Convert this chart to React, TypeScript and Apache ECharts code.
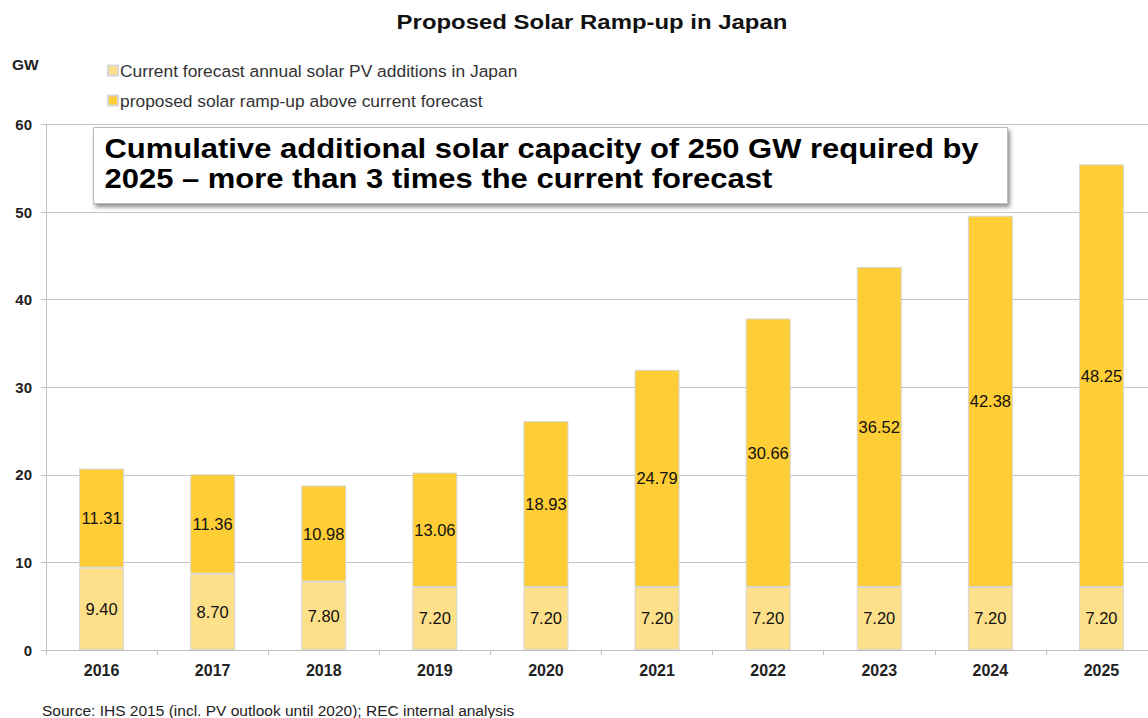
import React, { useEffect, useRef } from "react";
import * as echarts from "echarts";

const years = ["2016", "2017", "2018", "2019", "2020", "2021", "2022", "2023", "2024", "2025"];
const currentForecast = [9.4, 8.7, 7.8, 7.2, 7.2, 7.2, 7.2, 7.2, 7.2, 7.2];
const proposedRampUp = [11.31, 11.36, 10.98, 13.06, 18.93, 24.79, 30.66, 36.52, 42.38, 48.25];
const seriesNames = [
  "Current forecast annual solar PV additions in Japan",
  "proposed solar ramp-up above current forecast",
];
const titleText = "Proposed Solar Ramp-up in Japan";
const calloutLines = [
  "Cumulative additional solar capacity of 250 GW required by",
  "2025 – more than 3 times the current forecast",
];
const sourceText = "Source: IHS 2015 (incl. PV outlook until 2020); REC internal analysis";

const FONT = '"Liberation Sans", Arial, sans-serif';

export default function App() {
  const ref = useRef<HTMLDivElement>(null);
  useEffect(() => {
    document.body.style.margin = "0";
    if (!ref.current) return;
    const chart = echarts.init(ref.current, undefined, { renderer: "svg" });
    const labelStyle = {
      show: true,
      position: "inside" as const,
      color: "#111",
      fontSize: 16.5,
      fontFamily: FONT,
      formatter: (p: any) => Number(p.value).toFixed(2),
    };
    chart.setOption({
      animation: false,
      backgroundColor: "#ffffff",
      textStyle: { fontFamily: FONT },
      legend: {
        orient: "vertical",
        left: 102,
        top: 57,
        itemWidth: 10,
        itemHeight: 10,
        itemGap: 13,
        icon: "rect",
        textStyle: { fontSize: 17.4, color: "#333", fontFamily: FONT, padding: [0, 0, 0, -3] },
        data: seriesNames,
      },
      grid: { left: 46, right: 3, top: 124.5, bottom: 68, containLabel: false },
      xAxis: {
        type: "category",
        data: years,
        axisLine: { show: true, lineStyle: { color: "#bfbfbf", width: 1 } },
        axisTick: { show: true, length: 5, lineStyle: { color: "#bfbfbf" } },
        axisLabel: { fontSize: 16, fontWeight: "bold", color: "#222", margin: 12, fontFamily: FONT },
      },
      yAxis: {
        type: "value",
        min: 0,
        max: 60,
        interval: 10,
        axisLine: { show: true, lineStyle: { color: "#bfbfbf", width: 1 } },
        axisTick: { show: true, length: 5, lineStyle: { color: "#bfbfbf" } },
        axisLabel: { fontSize: 15, fontWeight: "bold", color: "#222", margin: 14, fontFamily: FONT },
        splitLine: { show: true, lineStyle: { color: "#c4c4c4", width: 1 } },
      },
      series: [
        {
          name: seriesNames[0],
          type: "bar",
          stack: "total",
          data: currentForecast,
          barWidth: 45,
          itemStyle: { color: "#FFE08A", borderColor: "#d6d6d6", borderWidth: 1 },
          label: labelStyle,
        },
        {
          name: seriesNames[1],
          type: "bar",
          stack: "total",
          data: proposedRampUp,
          barWidth: 45,
          itemStyle: { color: "#FFCD35", borderColor: "#d6d6d6", borderWidth: 1 },
          label: labelStyle,
        },
      ],
      graphic: [
        {
          type: "text",
          x: 592,
          y: 22,
          scaleX: 1.14,
          style: {
            text: titleText,
            font: `bold 21px ${FONT}`,
            fill: "#111",
            align: "center",
            verticalAlign: "middle",
          },
        },
        {
          type: "text",
          x: 12,
          y: 64,
          style: { text: "GW", font: `bold 15.5px ${FONT}`, fill: "#222", verticalAlign: "middle" },
        },
        {
          type: "group",
          left: 93,
          top: 127,
          children: [
            {
              type: "rect",
              shape: { x: 0, y: 0, width: 914, height: 76 },
              style: {
                fill: "#ffffff",
                stroke: "#bdbdbd",
                lineWidth: 1,
                shadowBlur: 4,
                shadowOffsetX: 2,
                shadowOffsetY: 3,
                shadowColor: "rgba(0,0,0,0.45)",
              },
            },
            {
              type: "text",
              x: 11,
              y: 6,
              scaleX: 1.147,
              style: {
                text: calloutLines.join("\n"),
                font: `bold 27px ${FONT}`,
                lineHeight: 30,
                fill: "#000",
              },
            },
          ],
        },
        {
          type: "text",
          x: 42,
          y: 710,
          style: { text: sourceText, font: `15.5px ${FONT}`, fill: "#222", verticalAlign: "middle" },
        },
      ],
    });
    return () => chart.dispose();
  }, []);
  return (
    <div style={{ width: 1148, height: 718, overflow: "hidden", position: "relative" }}>
      <div ref={ref} style={{ width: 1160, height: 718 }} />
    </div>
  );
}
